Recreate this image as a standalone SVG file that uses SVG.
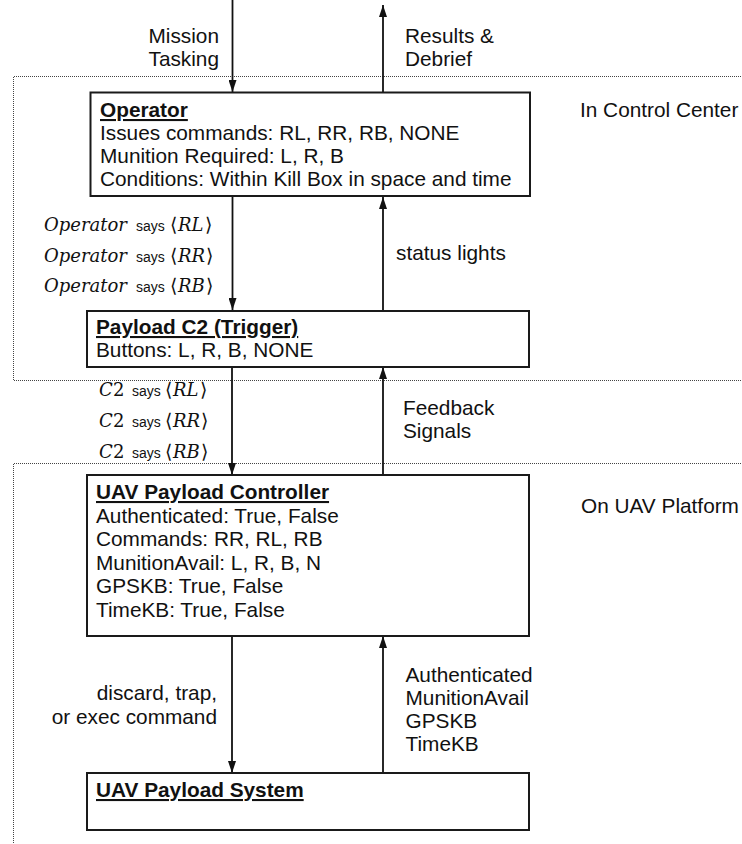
<svg xmlns="http://www.w3.org/2000/svg" width="742" height="844" viewBox="0 0 742 844">
  <defs>
    <style>
      .box { fill: #ffffff; stroke: #1a1a1a; stroke-width: 2; }
      .zone { fill: none; stroke: #444444; stroke-width: 1; stroke-dasharray: 1 1; }
      .txt { font-family: "Liberation Sans", Arial, sans-serif; font-size: 20.8px; fill: #111111; }
      .ttl { font-weight: bold; text-decoration: underline; }
      .mi { font-family: "DejaVu Serif", "Liberation Serif", serif; font-style: italic; font-size: 18px; fill: #111111; }
      .mr { font-family: "DejaVu Serif", "Liberation Serif", serif; font-size: 18px; fill: #111111; }
      .br { font-family: "DejaVu Serif", "DejaVu Sans", serif; font-size: 19px; fill: #111111; }
      .says { font-family: "Liberation Sans", Arial, sans-serif; font-size: 14px; fill: #111111; }
      .wire { stroke: #111111; stroke-width: 1.8; fill: none; marker-end: url(#head); }
    </style>
    <marker id="head" viewBox="0 0 12 8" refX="12" refY="4" markerUnits="userSpaceOnUse" markerWidth="12" markerHeight="8" orient="auto">
      <path d="M0,0 L12,4 L0,8 Z" fill="#111111"/>
    </marker>
  </defs>

  <rect width="742" height="844" fill="#ffffff"/>

  <!-- Zone outlines -->
  <g id="zones">
    <path class="zone" d="M745,76.5 H13.5 V380.5 H745"/>
    <path class="zone" d="M745,463.5 H13.5 V850"/>
    <text class="txt" x="580" y="117">In Control Center</text>
    <text class="txt" x="581" y="513">On UAV Platform</text>
  </g>

  <!-- Connectors and their labels -->
  <g id="connectors">
    <line class="wire" x1="232.5" y1="0" x2="232.5" y2="92"/>
    <line class="wire" x1="383" y1="92" x2="383" y2="5"/>
    <line class="wire" x1="232.5" y1="197" x2="232.5" y2="310"/>
    <line class="wire" x1="383" y1="310" x2="383" y2="197"/>
    <line class="wire" x1="232" y1="367" x2="232" y2="475"/>
    <line class="wire" x1="383" y1="475" x2="383" y2="367"/>
    <line class="wire" x1="232" y1="636" x2="232" y2="773"/>
    <line class="wire" x1="383" y1="773" x2="383" y2="636"/>

    <text class="txt" text-anchor="end" x="219" y="43">Mission</text>
    <text class="txt" text-anchor="end" x="219" y="66">Tasking</text>
    <text class="txt" x="405" y="43">Results &amp;</text>
    <text class="txt" x="405" y="66">Debrief</text>

    <text class="mi" x="44" y="231">Operator</text>
    <text class="says" x="136" y="231">says</text>
    <text class="br" x="170" y="231">⟨</text>
    <text class="mi" x="178" y="231">RL</text>
    <text class="br" x="205" y="231">⟩</text>

    <text class="mi" x="44" y="262">Operator</text>
    <text class="says" x="136" y="262">says</text>
    <text class="br" x="170" y="262">⟨</text>
    <text class="mi" x="178" y="262">RR</text>
    <text class="br" x="206" y="262">⟩</text>

    <text class="mi" x="44" y="292">Operator</text>
    <text class="says" x="136" y="292">says</text>
    <text class="br" x="170" y="292">⟨</text>
    <text class="mi" x="178" y="292">RB</text>
    <text class="br" x="206" y="292">⟩</text>

    <text class="txt" x="396" y="260">status lights</text>

    <text class="mi" x="99" y="396">C</text><text class="mr" x="113" y="396">2</text>
    <text class="says" x="132" y="396">says</text>
    <text class="br" x="165" y="396">⟨</text>
    <text class="mi" x="173" y="396">RL</text>
    <text class="br" x="200" y="396">⟩</text>

    <text class="mi" x="99" y="427">C</text><text class="mr" x="113" y="427">2</text>
    <text class="says" x="132" y="427">says</text>
    <text class="br" x="165" y="427">⟨</text>
    <text class="mi" x="173" y="427">RR</text>
    <text class="br" x="201" y="427">⟩</text>

    <text class="mi" x="99" y="458">C</text><text class="mr" x="113" y="458">2</text>
    <text class="says" x="132" y="458">says</text>
    <text class="br" x="165" y="458">⟨</text>
    <text class="mi" x="173" y="458">RB</text>
    <text class="br" x="201" y="458">⟩</text>

    <text class="txt" x="403" y="415">Feedback</text>
    <text class="txt" x="403" y="438">Signals</text>

    <text class="txt" text-anchor="end" x="217" y="700">discard, trap,</text>
    <text class="txt" text-anchor="end" x="217" y="724">or exec command</text>

    <text class="txt" x="405.5" y="682">Authenticated</text>
    <text class="txt" x="405.5" y="705">MunitionAvail</text>
    <text class="txt" x="405.5" y="728">GPSKB</text>
    <text class="txt" x="405.5" y="751">TimeKB</text>
  </g>

  <!-- Nodes -->
  <g id="operator">
    <rect class="box" x="90.5" y="92.5" width="439.5" height="103.5"/>
    <text class="txt ttl" x="100" y="117">Operator</text>
    <text class="txt" x="100" y="140">Issues commands: RL, RR, RB, NONE</text>
    <text class="txt" x="100" y="163">Munition Required: L, R, B</text>
    <text class="txt" x="100" y="186">Conditions: Within Kill Box in space and time</text>
  </g>

  <g id="payload-c2">
    <rect class="box" x="87" y="311" width="442" height="56"/>
    <text class="txt ttl" x="96" y="334">Payload C2 (Trigger)</text>
    <text class="txt" x="96" y="357">Buttons: L, R, B, NONE</text>
  </g>

  <g id="uav-payload-controller">
    <rect class="box" x="87" y="475" width="442" height="161"/>
    <text class="txt ttl" x="96" y="499">UAV Payload Controller</text>
    <text class="txt" x="96" y="523">Authenticated: True, False</text>
    <text class="txt" x="96" y="546">Commands: RR, RL, RB</text>
    <text class="txt" x="96" y="570">MunitionAvail: L, R, B, N</text>
    <text class="txt" x="96" y="593">GPSKB: True, False</text>
    <text class="txt" x="96" y="617">TimeKB: True, False</text>
  </g>

  <g id="uav-payload-system">
    <rect class="box" x="87" y="773" width="442" height="57"/>
    <text class="txt ttl" x="96" y="797">UAV Payload System</text>
  </g>
</svg>
